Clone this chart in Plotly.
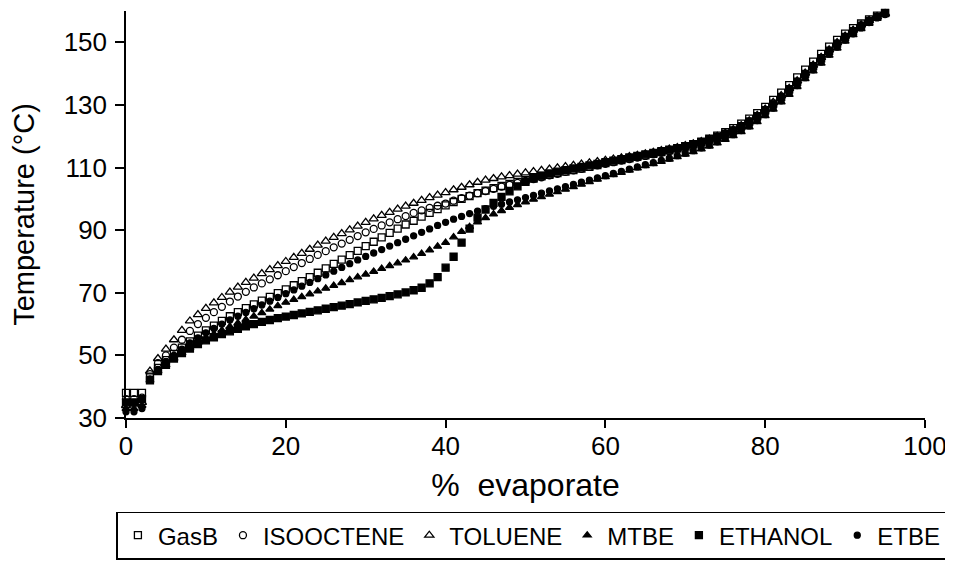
import plotly.graph_objects as go

evaporate_pct = list(range(96))

gasb = [38, 38, 38, 43, 46, 48.5, 50.5, 52.5, 54.5, 56.3, 58, 59.5, 61, 62.5, 63.8, 65.1, 66.3, 67.5, 68.7, 69.9,
        71.1, 72.4, 73.7, 75, 76.4, 77.8, 79.2, 80.6, 82, 83.4, 84.9, 86.3, 87.7, 89.1, 90.5, 91.8, 93, 94.3, 95.5, 96.7,
        97.9, 99, 100, 100.9, 101.8, 102.6, 103.4, 104.1, 104.8, 105.4, 106, 106.6, 107.2, 107.7, 108.2, 108.7, 109.2, 109.7, 110.2, 110.8,
        111.4, 111.9, 112.4, 112.9, 113.4, 113.9, 114.4, 114.9, 115.5, 116.1, 116.8, 117.5, 118.3, 119.2, 120.2, 121.3, 122.6, 124, 125.6, 127.4,
        129.4, 131.6, 133.9, 136.3, 138.8, 141.3, 143.8, 146.3, 148.6, 150.8, 152.8, 154.5, 156, 157.3, 158.5, 159.4]

isooctene = [36, 36, 36.5, 44, 47.5, 50, 52.5, 55, 57.8, 60, 62, 63.8, 65.5, 67.2, 68.8, 70.3, 71.7, 73, 74.3, 75.6,
             76.9, 78.2, 79.5, 80.8, 82.1, 83.3, 84.5, 85.7, 86.9, 88.1, 89.3, 90.4, 91.5, 92.5, 93.5, 94.5, 95.5, 96.3, 97.1, 97.8,
             98.5, 99.4, 100.2, 101, 101.8, 102.5, 103.2, 103.9, 104.5, 105.1, 105.7, 106.3, 106.9, 107.5, 108, 108.6, 109.1, 109.6, 110.2, 110.7,
             111.2, 111.7, 112.2, 112.7, 113.2, 113.7, 114.2, 114.7, 115.2, 115.8, 116.4, 117, 117.7, 118.5, 119.3, 120.2, 121.3, 122.6, 124.1, 125.8,
             127.8, 129.9, 132.2, 134.6, 137, 139.5, 142, 144.5, 147, 149.3, 151.5, 153.5, 155.3, 156.8, 158.1, 159]

toluene = [34, 34.5, 35, 45, 49, 52, 55, 58, 61, 63, 65, 66.8, 68.5, 70.2, 71.8, 73.3, 74.7, 76.1, 77.4, 78.7,
           80, 81.3, 82.6, 83.9, 85.2, 86.5, 87.7, 88.9, 90.1, 91.3, 92.5, 93.6, 94.7, 95.7, 96.7, 97.7, 98.6, 99.5, 100.4, 101.2,
           102, 102.9, 103.7, 104.5, 105.3, 106, 106.5, 107, 107.4, 107.9, 108.3, 108.7, 109.1, 109.5, 109.9, 110.3, 110.7, 111.1, 111.5, 111.9,
           112.3, 112.7, 113.1, 113.5, 113.9, 114.4, 114.9, 115.4, 115.9, 116.4, 117, 117.6, 118.3, 119.1, 120, 121, 122.1, 123.4, 124.9, 126.7,
           128.7, 130.8, 133, 135.3, 137.7, 140.2, 142.7, 145.2, 147.6, 149.9, 152, 153.9, 155.6, 157, 158.2, 159.2]

mtbe = [33, 33, 34, 42, 45, 47, 49, 50.8, 52.5, 54, 55.5, 56.8, 58, 59.2, 60.3, 61.4, 62.5, 63.6, 64.7, 65.8,
        66.9, 67.8, 68.7, 69.6, 70.5, 71.4, 72.3, 73.2, 74.1, 75, 75.9, 76.8, 77.7, 78.6, 79.5, 80.4, 81.4, 82.5, 83.6, 84.8,
        86, 87.8, 89.5, 91.1, 92.6, 93.9, 95.1, 96.2, 97.2, 98.1, 99, 99.8, 100.6, 101.4, 102.2, 103, 103.8, 104.6, 105.4, 106.2,
        107, 107.7, 108.4, 109.1, 109.8, 110.5, 111.2, 111.9, 112.6, 113.4, 114.2, 115, 115.9, 116.8, 117.8, 118.9, 120.1, 121.4, 122.9, 124.6,
        126.5, 128.6, 130.9, 133.3, 135.8, 138.3, 140.8, 143.3, 145.8, 148.1, 150.3, 152.4, 154.3, 156, 157.6, 158.9]

ethanol = [35, 35, 36, 42, 45, 47, 49, 50.7, 52.2, 53.6, 54.8, 55.8, 56.8, 57.7, 58.5, 59.3, 60, 60.7, 61.3, 61.9,
           62.4, 62.9, 63.4, 63.9, 64.4, 64.9, 65.4, 65.9, 66.4, 66.9, 67.4, 67.9, 68.4, 68.9, 69.5, 70.1, 70.8, 71.6, 73, 75,
           78, 81.5, 86, 90.5, 94, 96.6, 98.7, 100.6, 102.4, 104, 105.4, 106.5, 107.4, 108.1, 108.7, 109.2, 109.7, 110.2, 110.7, 111.2,
           111.7, 112.2, 112.7, 113.2, 113.7, 114.2, 114.7, 115.2, 115.7, 116.2, 116.8, 117.4, 118.1, 118.9, 119.8, 120.8, 121.9, 123.2, 124.7, 126.4,
           128.3, 130.4, 132.6, 135, 137.4, 139.9, 142.4, 144.9, 147.3, 149.6, 151.7, 153.6, 155.3, 156.8, 158.1, 159.3]

etbe = [32, 32, 33, 42.5, 45.5, 48, 50, 52, 54, 55.6, 57.2, 58.6, 60, 61.3, 62.5, 63.7, 64.9, 66.1, 67.3, 68.5,
        69.7, 70.9, 72.1, 73.3, 74.5, 75.7, 76.9, 78.1, 79.3, 80.5, 81.6, 82.7, 83.8, 84.9, 86, 87.1, 88.2, 89.3, 90.4, 91.5,
        92.5, 93.5, 94.4, 95.3, 96.1, 96.9, 97.6, 98.3, 99, 99.7, 100.4, 101.1, 101.8, 102.5, 103.2, 103.9, 104.6, 105.3, 106, 106.7,
        107.4, 108.1, 108.8, 109.5, 110.2, 110.9, 111.6, 112.3, 113, 113.8, 114.6, 115.4, 116.3, 117.2, 118.2, 119.3, 120.5, 121.8, 123.3, 125,
        126.9, 129, 131.3, 133.7, 136.2, 138.7, 141.2, 143.7, 146.2, 148.5, 150.7, 152.7, 154.6, 156.3, 157.8, 159]

series = [
    ("GasB", gasb, "square-open", 7),
    ("ISOOCTENE", isooctene, "circle-open", 7),
    ("TOLUENE", toluene, "triangle-up-open", 8),
    ("MTBE", mtbe, "triangle-up", 7),
    ("ETHANOL", ethanol, "square", 7),
    ("ETBE", etbe, "circle", 6),
]

FONT = "Liberation Sans"

fig = go.Figure()
for name, vals, sym, sz in series:
    fig.add_trace(go.Scatter(
        x=evaporate_pct, y=vals, mode="markers", name=name, cliponaxis=False,
        marker=dict(symbol=sym, size=sz, color="black", line=dict(color="black", width=1.3)),
    ))

# page body has an 8px default margin, so the figure is sized/offset to compensate
fig.update_layout(
    width=945, height=563,
    margin=dict(l=118, r=28, t=3, b=153),
    paper_bgcolor="white", plot_bgcolor="white",
    font=dict(family=FONT, color="black", size=26),
    showlegend=True,
    legend=dict(
        orientation="h", x=-0.012, xanchor="left", y=-0.23, yanchor="top",
        bordercolor="black", borderwidth=1.5, font=dict(family=FONT, size=24, color="black"),
        itemwidth=30, tracegroupgap=0,
    ),
    xaxis=dict(
        range=[0, 100], dtick=20, tick0=0, showline=True, linecolor="black", linewidth=1.5,
        ticks="outside", ticklen=8, tickwidth=1.5, tickcolor="black", showgrid=False, zeroline=False,
        tickfont=dict(family=FONT, size=26, color="black"), ticklabelstandoff=-4,
        title=dict(text="%  evaporate", font=dict(family=FONT, size=32, color="black"), standoff=14),
    ),
    yaxis=dict(
        range=[30, 160], tickvals=[30, 50, 70, 90, 110, 130, 150], showline=True, linecolor="black", linewidth=1.5,
        ticks="outside", ticklen=9, tickwidth=1.5, tickcolor="black", showgrid=False, zeroline=False,
        tickfont=dict(family=FONT, size=26, color="black"), ticklabelstandoff=3,
        title=dict(text="Temperature (°C)", font=dict(family=FONT, size=29, color="black"), standoff=21),
    ),
)

fig.write_html("out.html")
